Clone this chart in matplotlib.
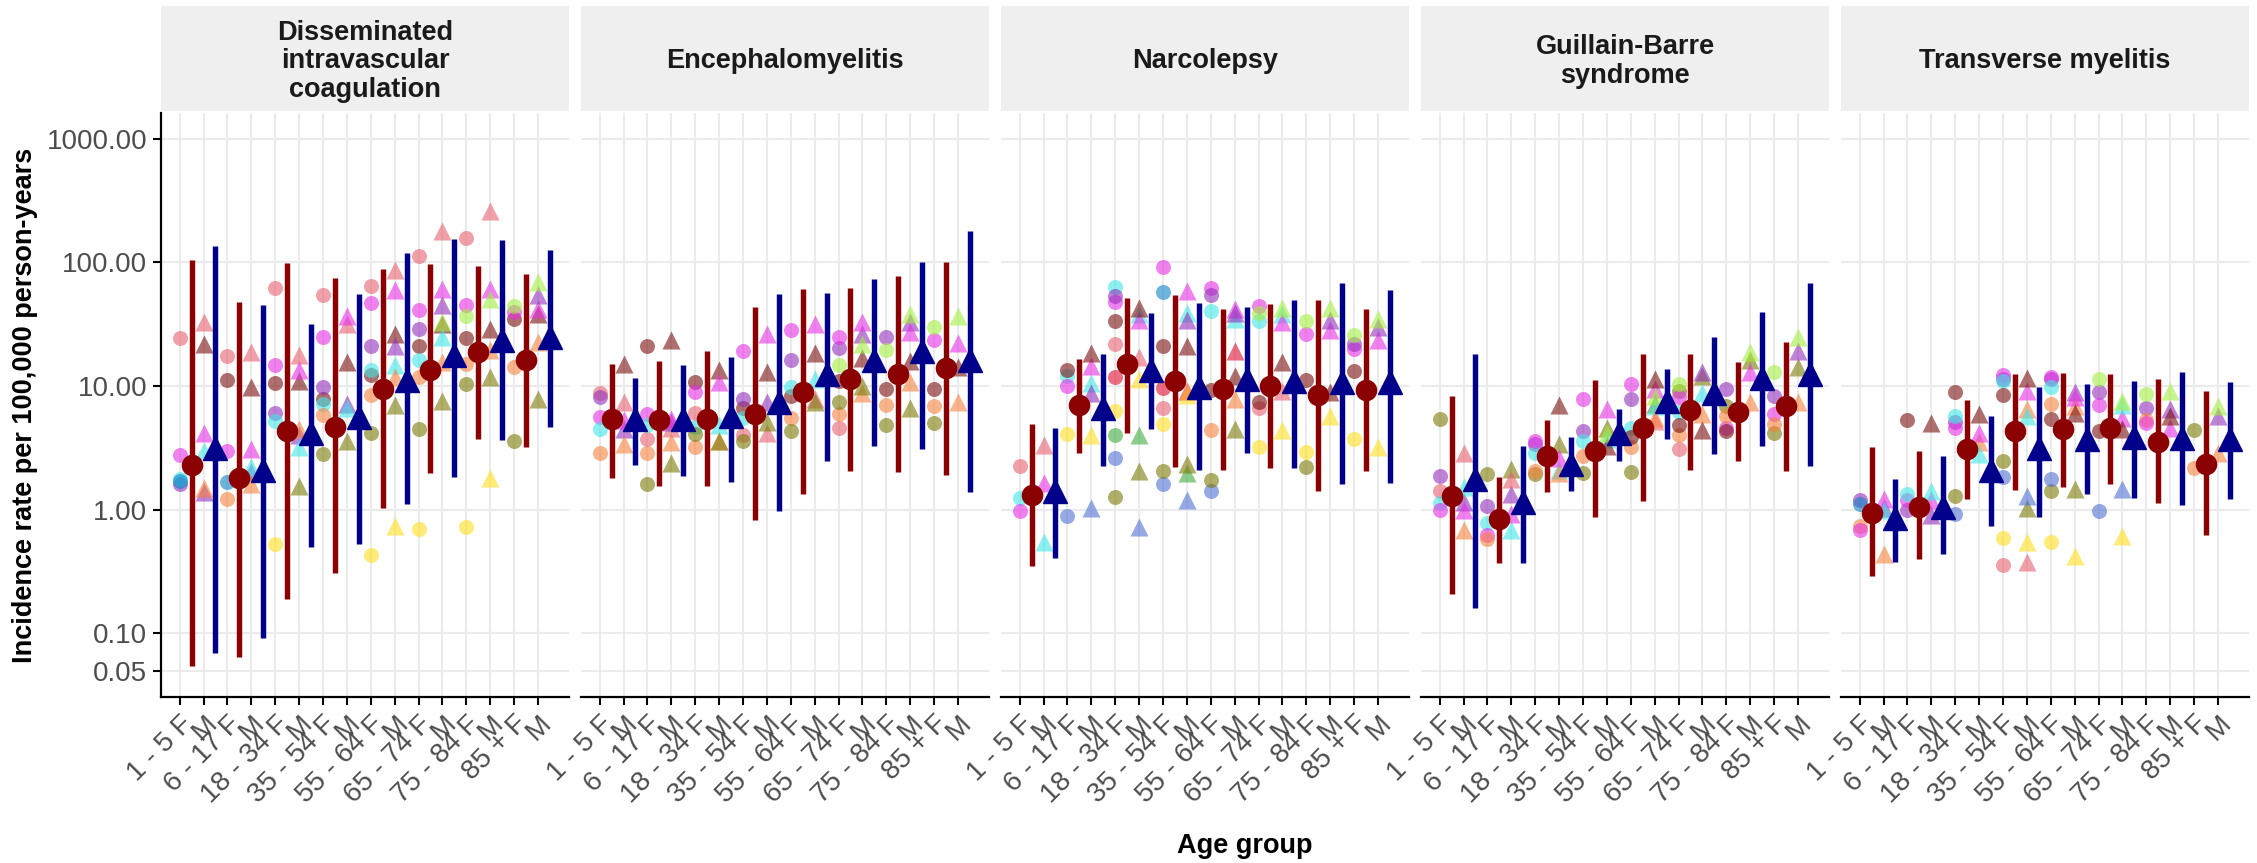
import numpy as np
import matplotlib
matplotlib.use("Agg")
import matplotlib.pyplot as plt
import matplotlib.transforms as mtransforms
from matplotlib.ticker import FixedLocator, NullLocator, FixedFormatter

plt.rcParams['font.family'] = ['Liberation Sans', 'DejaVu Sans']

n = np.nan

# ---- categories -------------------------------------------------------------
age_groups = ["1 - 5", "6 - 17", "18 - 34", "35 - 54", "55 - 64", "65 - 74", "75 - 84", "85 +"]
tick_labels = []
for g in age_groups:
    tick_labels += [g + " F", "M"]

outcomes = ["Disseminated\nintravascular\ncoagulation", "Encephalomyelitis", "Narcolepsy",
            "Guillain-Barre\nsyndrome", "Transverse myelitis"]

# database colours (drawn semi-transparent)
db_colors = {
    "salmon": "#E86171", "crimson": "#DE0D2F", "brown": "#7A1010", "orange": "#F7823F",
    "olive": "#7A7A05", "yellow": "#FFDE1E", "lime": "#A3EE3F", "green": "#3FAC3F",
    "cyan": "#3FE6E6", "blue": "#5071D5", "sky": "#0D82C5", "purple": "#932FBC",
    "magenta": "#E62FE6",
}

# ---- pooled estimates (F, M alternating) --------------------------------------
dic_est = [2.3, 3.16, 1.8, 2.1, 4.3, 4.2, 4.7, 5.6, 9.5, 11.1, 13.4, 17.7, 18.9, 23.5, 16.1, 25]
dic_lo = [0.054, 0.069, 0.065, 0.092, 0.19, 0.50, 0.31, 0.53, 1.03, 1.11, 1.98, 1.83, 3.7, 3.65, 3.2, 4.7]
dic_hi = [104, 136, 48, 45, 98, 31.6, 75, 56, 88, 120, 97, 155, 94, 152, 81, 126]

enc_est = [5.4, 5.4, 5.3, 5.4, 5.4, 5.7, 5.9, 7.4, 8.9, 12.6, 11.3, 16.1, 12.6, 19.3, 14, 16.1]
enc_lo = [1.8, 2.3, 1.56, 1.86, 1.56, 1.67, 0.82, 0.97, 1.35, 2.5, 2.07, 3.3, 2.0, 3.1, 1.9, 1.38]
enc_hi = [15.2, 11.7, 16, 14.7, 19.3, 17.3, 43.7, 55, 61, 57, 62, 73, 77, 100, 100, 178]

nar_est = [1.31, 1.43, 7.0, 6.6, 15, 13.5, 10.9, 9.8, 9.4, 11.5, 10.1, 11, 8.5, 10.7, 9.3, 10.7]
nar_lo = [0.35, 0.41, 2.85, 2.27, 4.2, 4.5, 2.2, 2.1, 2.08, 2.85, 2.19, 2.16, 1.41, 1.61, 2.04, 1.65]
nar_hi = [4.9, 4.6, 16.7, 18, 52, 39, 54, 47, 41.6, 43.7, 46, 49.7, 49.7, 68, 42, 60]

gbs_est = [1.28, 1.77, 0.84, 1.15, 2.71, 2.35, 3.0, 4.2, 4.6, 7.6, 6.4, 8.8, 6.2, 11.7, 6.9, 12.6]
gbs_lo = [0.21, 0.16, 0.37, 0.37, 1.4, 1.41, 0.87, 2.47, 1.18, 3.7, 2.1, 2.8, 2.5, 3.3, 2.04, 2.24]
gbs_hi = [8.3, 18.3, 1.83, 3.29, 5.3, 3.9, 11.1, 6.5, 18.3, 13.8, 18.3, 24.7, 15.6, 39.8, 22.7, 68]

tm_est = [0.94, 0.85, 1.06, 1.06, 3.08, 2.08, 4.3, 3.13, 4.47, 3.74, 4.56, 3.87, 3.56, 3.8, 2.35, 3.74]
tm_lo = [0.29, 0.38, 0.40, 0.44, 1.21, 0.74, 1.45, 0.87, 1.53, 1.35, 1.61, 1.24, 1.13, 1.09, 0.63, 1.22]
tm_hi = [3.24, 1.77, 2.98, 2.71, 7.7, 5.7, 12.6, 9.8, 12.7, 10.3, 12.6, 11, 11.5, 13, 9.1, 10.7]

# ---- database-level estimates ------------------------------------------------
dic_db = {
    "salmon": [24.5, 33, 17.4, 19, 62, 17.8, 54, 32, 65, 87, 112, 178, 158, 258, n, n],
    "brown": [n, 22, 11.2, 9.8, 10.5, 10.9, 7.9, 15.7, 12.2, 26.5, 21, 32, 24.5, 29, 35, 38],
    "magenta": [2.75, 4.2, 3.0, 3.1, 14.8, 13.5, 25, 37, 47, 60, 41, 61, 45, 61, 40, 42],
    "purple": [1.62, 1.4, n, 2.0, 6.1, 4.0, 9.8, 7.2, 21, 21, 29, 45, n, n, n, 54],
    "cyan": [1.77, 3.0, n, 2.2, 5.2, 3.2, 7.2, 6.6, 13.4, 14.7, 16.2, 25, n, n, n, n],
    "sky": [1.7, n, 1.67, n, n, n, n, n, n, n, n, n, n, n, n, n],
    "orange": [n, 1.5, 1.22, 1.6, n, 4.5, 5.8, n, 8.4, 11.9, 11.9, 15.7, 15, 19.5, 14.3, 22.8],
    "olive": [n, n, n, n, n, 1.55, 2.8, 3.6, 4.2, 7, 4.5, 7.6, 10.3, 11.9, 3.6, 7.9],
    "yellow": [n, n, n, n, 0.53, n, n, n, 0.43, 0.74, 0.70, n, 0.73, 1.8, n, n],
    "lime": [n, n, n, n, n, n, n, n, n, n, n, 33, 37, 51, 44, 70],
}
enc_db = {
    "salmon": [8.8, 7.4, 3.7, 4.6, 6.0, n, 4.0, 4.2, n, 7.9, 4.6, n, n, n, n, n],
    "brown": [n, 15.2, 21, 23.4, 10.7, 13.5, 6.6, 13, 8.3, 18.6, 11, 17, 9.4, 15.8, 9.4, 14.2],
    "purple": [8.2, 4.5, n, 5.1, n, n, 7.9, 7.4, 16.1, n, 20.4, 26.5, 25, 32.9, n, n],
    "magenta": [5.6, 5.3, 5.9, 5.4, 8.9, 10.7, 19.3, 26.2, 28.5, 31.8, 24.7, 32.9, n, 27.5, 23.4, 22.5],
    "cyan": [4.5, n, 4.8, n, 4.7, 4.8, 5.5, n, 9.8, 11.3, n, n, n, n, n, n],
    "orange": [2.9, 3.4, 2.85, 3.5, 3.2, 3.6, n, n, 5.5, n, 5.9, 8.8, 7.0, 10.7, 6.9, 7.4],
    "olive": [n, n, 1.6, 2.4, 4.1, 3.6, 3.6, 5.1, 4.3, 7.4, 7.4, 10.1, 4.8, 6.6, 5.0, n],
    "lime": [n, n, n, n, n, n, n, n, n, n, 14.7, 21.9, 19.7, 38.5, 30, 37],
}
nar_db = {
    "salmon": [2.27, 3.36, n, n, 21.7, 17.3, 6.6, 9.1, n, n, 6.7, 9.1, n, n, n, n],
    "crimson": [n, n, n, n, 11.9, n, 9.7, n, n, 19.3, n, n, n, n, n, n],
    "cyan": [1.24, 0.55, 12.1, 10.5, 63, 38, n, 38.9, 40.7, 34.8, 33.4, 38, n, n, n, n],
    "magenta": [0.98, 1.65, 10, 14.5, 47.6, 34, 92, 59, 62.5, 41.6, 44, 32.9, 26.6, 28.5, 20, 23.4],
    "purple": [n, n, n, 8.8, 53, n, n, 34, 54, 39, n, n, n, 34, 21.9, 30],
    "brown": [n, n, 13.5, 18.6, 33.6, 43, 21, 21, 9.3, 12.1, 7.4, 15.6, 11.1, 9.0, 13.2, n],
    "yellow": [n, n, 4.07, 4.0, 6.3, 11.3, 4.9, 8.5, n, n, 3.2, 4.4, 2.95, 5.7, 3.74, 3.24],
    "green": [n, n, n, n, 4.0, 4.0, n, 1.97, n, n, n, n, n, n, n, n],
    "blue": [n, n, 0.89, 1.04, 2.6, 0.73, 1.6, 1.19, 1.41, n, n, n, n, n, n, n],
    "sky": [n, n, n, n, n, n, 58, n, n, n, n, n, n, n, n, n],
    "olive": [n, n, n, n, 1.26, 2.04, 2.07, 2.35, 1.73, 4.5, n, n, 2.2, n, n, n],
    "orange": [n, n, n, n, n, n, n, 9.1, 4.4, 7.9, n, n, n, n, n, n],
    "lime": [n, n, n, n, n, n, n, n, n, n, 38.7, 42.8, 33.4, 43, 26, 34.6],
}
gbs_db = {
    "olive": [5.4, n, 1.94, 2.14, 1.94, 3.4, 1.97, 4.6, 2.0, 7.1, 9.1, 12.1, 6.9, 16.1, 4.2, 14.2],
    "purple": [1.87, 1.15, 1.07, 1.33, 3.37, n, 4.3, n, 7.9, n, n, 13, 9.4, n, 8.3, 19.3],
    "salmon": [1.43, 2.85, n, 1.77, n, n, n, n, n, 5.2, 3.1, n, n, n, n, n],
    "cyan": [1.14, 1.53, 0.78, 0.68, 2.85, 2.1, 3.6, 3.7, 4.6, 6.9, 6.2, 8.8, n, n, n, n],
    "magenta": [0.99, 1.0, 0.63, 0.93, 3.6, 2.6, 7.9, 6.5, 10.3, 9.4, 8.2, n, 4.6, 13, 5.9, n],
    "orange": [n, 0.68, 0.58, n, 2.07, 1.97, 2.7, n, 3.24, 5.5, 4.0, 5.9, 5.7, 7.4, 4.9, 7.4],
    "brown": [n, n, n, n, n, 7.0, n, 3.3, 3.9, 11.3, 4.8, 4.4, 4.3, n, n, n],
    "lime": [n, n, n, n, n, n, n, 4.2, n, 8.3, 10.3, n, n, 18.9, 13, 24.7],
}
tm_db = {
    "purple": [1.19, 1.04, 1.0, 0.9, 5.15, n, 11.5, n, 11.5, 8.9, 8.9, n, 6.6, 6.5, n, 5.7],
    "sky": [1.11, n, n, n, n, n, n, n, n, n, n, n, n, n, n, n],
    "orange": [0.74, 0.44, n, n, n, 3.5, n, 6.5, 7.2, 6.9, n, n, 5.3, n, 2.16, 2.9],
    "magenta": [0.69, 1.21, 1.19, 1.19, 4.6, 4.2, 12.4, 9.1, 11.9, 8.1, 7.0, 5.5, 5.0, 4.6, n, n],
    "cyan": [n, 1.0, 1.33, 1.43, 5.7, 2.8, 10.9, 5.7, 9.8, n, n, 7.0, n, n, n, n],
    "brown": [n, n, 5.3, 5.0, 8.9, 5.9, 8.5, 11.7, 5.4, 6.1, 4.3, 4.47, n, 5.7, n, n],
    "olive": [n, n, n, n, 1.28, n, 2.5, 1.04, 1.43, 1.48, n, n, n, n, 4.4, n],
    "blue": [n, n, n, n, 0.93, n, 1.83, 1.3, 1.77, n, 0.97, 1.48, n, n, n, n],
    "yellow": [n, n, n, n, n, n, 0.59, 0.55, 0.55, 0.42, n, 0.61, n, n, n, n],
    "salmon": [n, n, n, n, n, n, 0.36, 0.38, n, n, n, n, n, n, n, n],
    "lime": [n, n, n, n, n, n, n, n, n, n, 11.5, 7.6, 8.7, 9.2, n, 6.9],
}

panels = [
    (dic_db, dic_est, dic_lo, dic_hi),
    (enc_db, enc_est, enc_lo, enc_hi),
    (nar_db, nar_est, nar_lo, nar_hi),
    (gbs_db, gbs_est, gbs_lo, gbs_hi),
    (tm_db, tm_est, tm_lo, tm_hi),
]

# ---- figure layout (pixels) ---------------------------------------------------
W, H = 2257, 863
fig = plt.figure(figsize=(W / 100, H / 100), dpi=100)
left0, pw, gap = 161, 408, 12
ptop, pbot = 113, 697
strip_top, strip_bot = 6, 111

x = np.arange(1, 17)
is_f = (x % 2 == 1)
yticks = [0.05, 0.1, 1, 10, 100, 1000]
label_shift = mtransforms.ScaledTranslation(5 / 100, 0, fig.dpi_scale_trans)

for i, (db, est, lo, hi) in enumerate(panels):
    l = left0 + i * (pw + gap)
    ax = fig.add_axes([l / W, 1 - pbot / H, pw / W, (pbot - ptop) / H])
    ax.set_yscale('log')
    ax.set_ylim(0.0306, 1614)
    ax.set_xlim(0.22, 17.3)
    ax.set_axisbelow(True)

    # individual databases: circles for F, triangles for M
    for name, vals in db.items():
        v = np.array(vals, dtype=float)
        ax.scatter(x[is_f], v[is_f], marker='o', s=10.8 ** 2, color=db_colors[name],
                   alpha=0.6, linewidths=0, zorder=2)
        ax.scatter(x[~is_f], v[~is_f], marker='^', s=13 ** 2, color=db_colors[name],
                   alpha=0.6, linewidths=0, zorder=2)

    # pooled estimate with CI, dodged right
    est, lo, hi = np.array(est), np.array(lo), np.array(hi)
    xp = x + 0.5
    ax.vlines(xp[is_f], lo[is_f], hi[is_f], color='#8B0000', lw=3.9, zorder=3)
    ax.vlines(xp[~is_f], lo[~is_f], hi[~is_f], color='#00008B', lw=3.9, zorder=3)
    ax.plot(xp[is_f], est[is_f], 'o', ms=14.5, color='#8B0000', zorder=4)
    ax.plot(xp[~is_f], est[~is_f], '^', ms=17, color='#00008B', zorder=4)

    ax.yaxis.set_major_locator(FixedLocator(yticks))
    ax.yaxis.set_major_formatter(FixedFormatter(["%.2f" % t for t in yticks]))
    ax.yaxis.set_minor_locator(NullLocator())
    ax.set_xticks(x)
    ax.set_xticklabels(tick_labels, rotation=45, ha='right', rotation_mode='anchor')
    for lab in ax.get_xticklabels():
        lab.set_transform(lab.get_transform() + label_shift)
    ax.grid(True, color='#EBEBEB', lw=1.5)
    ax.tick_params(axis='both', length=6, width=1.5, color='black', labelsize=20,
                   labelcolor='#4D4D4D', pad=4)

    for s in ['top', 'right']:
        ax.spines[s].set_visible(False)
    ax.spines['bottom'].set_linewidth(1.6)
    if i == 0:
        ax.spines['left'].set_linewidth(1.6)
    else:
        ax.spines['left'].set_visible(False)
        ax.tick_params(axis='y', left=False, labelleft=False)

    # facet strip
    sax = fig.add_axes([l / W, 1 - strip_bot / H, pw / W, (strip_bot - strip_top) / H])
    sax.set_facecolor('#EFEFEF')
    sax.set_xticks([])
    sax.set_yticks([])
    for s in sax.spines.values():
        s.set_visible(False)
    sax.text(0.5, 0.5 - 3 / 105, outcomes[i], ha='center', va='center', fontsize=19.5,
             fontweight='bold', color='#1A1A1A', linespacing=1.13, transform=sax.transAxes)

fig.text(25 / W, 1 - 405 / H, "Incidence rate per 100,000 person-years", rotation=90,
         ha='center', va='center', fontsize=19.5, fontweight='bold')
fig.text(1245 / W, 1 - 846 / H, "Age group", ha='center', va='center',
         fontsize=19.5, fontweight='bold')

fig.savefig("out.png", dpi=100, facecolor='white')
